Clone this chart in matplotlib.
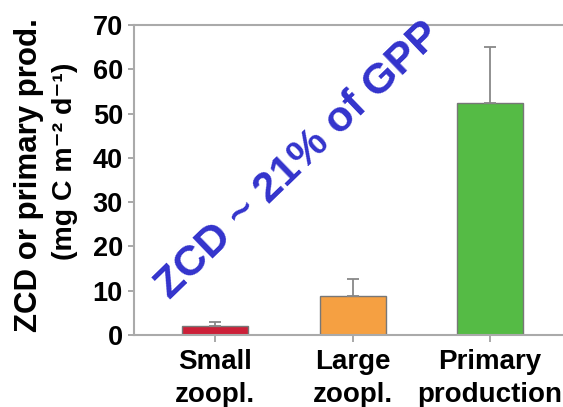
import matplotlib.pyplot as plt

labels = ['Small\nzoopl.', 'Large\nzoopl.', 'Primary\nproduction']
values = [2.0, 8.8, 52.3]
errors = [1.0, 3.8, 12.7]
colors = ['#cc2038', '#f5a042', '#55bb45']

plt.rcParams['font.family'] = ['Liberation Sans', 'DejaVu Sans']
plt.rcParams['font.weight'] = 'bold'

W, H = 563, 407
fig = plt.figure(figsize=(W / 100, H / 100), dpi=100)
ax = fig.add_axes([134 / W, 1 - 335 / H, 1 - 134 / W, 310 / H])

x = range(len(values))
ax.bar(x, values, width=0.48, color=colors, edgecolor='#777777', linewidth=1.0,
       yerr=[[0] * len(errors), errors], ecolor='#888888',
       error_kw=dict(capsize=4, elinewidth=1.3, capthick=1.3))

ax.set_xlim(-0.59, 2.53)
ax.set_ylim(0, 70)
ax.set_yticks(range(0, 71, 10))
ax.set_xticks(list(x))
ax.set_xticklabels(labels, fontsize=20, fontweight='bold', linespacing=1.35)
ax.tick_params(axis='y', labelsize=19.5, length=4, width=1.2, color='#999999', pad=4)
ax.tick_params(axis='x', length=5, width=1.2, color='#999999', pad=5)

for side in ['left', 'bottom', 'top']:
    ax.spines[side].set_color('#aaaaaa')
    ax.spines[side].set_linewidth(1.5)
ax.spines['right'].set_visible(False)

# two-line y label, each line placed on its own baseline
fig.text(37 / W, 1 - 175 / H, 'ZCD or primary prod.', fontsize=22.5,
         fontweight='bold', rotation=90, rotation_mode='anchor',
         ha='center', va='baseline')
fig.text(72 / W, 1 - 161 / H, '(mg C m\u207b\u00b2 d\u207b\u00b9)', fontsize=20.5,
         fontweight='bold', rotation=90, rotation_mode='anchor',
         ha='center', va='baseline')

ax.text(0.61, 39.3, 'ZCD ~ 21% of GPP', color='#3333cc', fontsize=31,
        fontweight='bold', rotation=44, ha='center', va='center',
        rotation_mode='anchor')

fig.savefig('out.png', dpi=100)
